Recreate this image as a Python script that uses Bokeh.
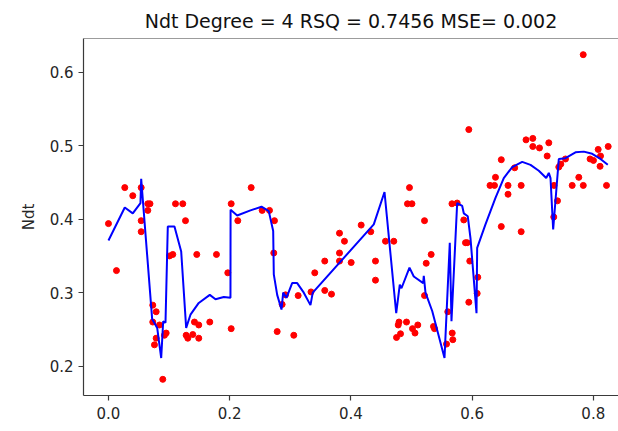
from bokeh.plotting import figure
from bokeh.models import Range1d, FixedTicker, PrintfTickFormatter, Span
from bokeh.embed import file_html
from bokeh.resources import INLINE

title_text = "Ndt Degree = 4 RSQ = 0.7456 MSE= 0.002"
y_label = "Ndt"
x_ticks = [0.0, 0.2, 0.4, 0.6, 0.8]
y_ticks = [0.2, 0.3, 0.4, 0.5, 0.6]

point_x = [0.0, 0.0132, 0.0269, 0.0401, 0.054, 0.0649, 0.0685, 0.0649, 0.054, 0.054,
           0.0731, 0.0787, 0.0731, 0.0842, 0.0787, 0.0759, 0.0952, 0.0924, 0.0896, 0.1106,
           0.1226, 0.1271, 0.1007, 0.1061, 0.1457, 0.1282, 0.1309, 0.1391, 0.1419, 0.149,
           0.149, 0.1782, 0.1672, 0.1969, 0.2025, 0.2134, 0.2355, 0.2025, 0.2536, 0.2657,
           0.2739, 0.2728, 0.2784, 0.3058, 0.2866, 0.2921, 0.313, 0.3342, 0.3404, 0.3569,
           0.3569, 0.368, 0.3812, 0.3894, 0.3812, 0.3812, 0.4005, 0.417, 0.4328, 0.4406,
           0.4406, 0.4571, 0.4708, 0.4967, 0.4934, 0.5008, 0.4794, 0.4918, 0.4781, 0.5017,
           0.5058, 0.4753, 0.4819, 0.5104, 0.5215, 0.5325, 0.5243, 0.5215, 0.5363, 0.538,
           0.5578, 0.5599, 0.5672, 0.5682, 0.5668, 0.5754, 0.5863, 0.5891, 0.5919, 0.5962,
           0.6094, 0.6084, 0.5946, 0.5946, 0.6482, 0.6386, 0.6296, 0.637, 0.6593, 0.6593,
           0.6482, 0.681, 0.681, 0.6703, 0.689, 0.7002, 0.7002, 0.7112, 0.7266, 0.7239,
           0.7352, 0.7431, 0.7464, 0.7541, 0.7409, 0.7348, 0.7652, 0.7761, 0.7835, 0.7834,
           0.7947, 0.8003, 0.8081, 0.8119, 0.8112, 0.8218, 0.8246]
point_y = [0.394, 0.330, 0.443, 0.432, 0.443, 0.421, 0.421, 0.412, 0.398, 0.383,
           0.283, 0.274, 0.260, 0.256, 0.238, 0.229, 0.245, 0.242, 0.182, 0.421,
           0.421, 0.398, 0.350, 0.352, 0.352, 0.242, 0.238, 0.243, 0.260, 0.256,
           0.238, 0.352, 0.260, 0.327, 0.421, 0.398, 0.443, 0.251, 0.412, 0.412,
           0.398, 0.354, 0.247, 0.242, 0.284, 0.297, 0.296, 0.301, 0.327, 0.343,
           0.303, 0.298, 0.381, 0.370, 0.354, 0.343, 0.341, 0.392, 0.383, 0.343,
           0.317, 0.370, 0.370, 0.443, 0.421, 0.421, 0.260, 0.260, 0.256, 0.251,
           0.245, 0.239, 0.244, 0.256, 0.398, 0.352, 0.340, 0.296, 0.254, 0.251,
           0.230, 0.274, 0.245, 0.236, 0.421, 0.422, 0.399, 0.368, 0.368, 0.343,
           0.321, 0.299, 0.287, 0.522, 0.481, 0.457, 0.446, 0.446, 0.446, 0.434,
           0.390, 0.446, 0.383, 0.470, 0.508, 0.510, 0.499, 0.497, 0.504, 0.486,
           0.446, 0.471, 0.475, 0.482, 0.425, 0.403, 0.446, 0.457, 0.446, 0.624,
           0.482, 0.480, 0.495, 0.486, 0.472, 0.446, 0.499]

fit_x = [0.0, 0.0269, 0.0401, 0.0528, 0.054, 0.0721, 0.0804, 0.087, 0.0903, 0.0941,
         0.0979, 0.1089, 0.12, 0.1282, 0.1353, 0.149, 0.1672, 0.1766, 0.1903, 0.2013,
         0.2015, 0.2124, 0.2343, 0.2525, 0.2645, 0.2718, 0.2728, 0.2784, 0.2855, 0.2883,
         0.2937, 0.3031, 0.3114, 0.3223, 0.3333, 0.3371, 0.4378, 0.4555, 0.4748, 0.4807,
         0.4835, 0.4967, 0.5038, 0.5193, 0.5203, 0.5231, 0.5342, 0.5545, 0.5632, 0.566,
         0.5754, 0.5837, 0.5863, 0.5929, 0.5974, 0.6073, 0.6084, 0.6221, 0.6386, 0.6523,
         0.6662, 0.6827, 0.6964, 0.7101, 0.7223, 0.7266, 0.7294, 0.7338, 0.7431, 0.7541,
         0.7706, 0.7843, 0.7982, 0.8119, 0.8239]
fit_y = [0.371, 0.416, 0.408, 0.422, 0.455, 0.264, 0.252, 0.211, 0.261, 0.259,
         0.390, 0.390, 0.356, 0.252, 0.270, 0.286, 0.297, 0.291, 0.294, 0.293,
         0.413, 0.405, 0.412, 0.417, 0.411, 0.384, 0.325, 0.297, 0.277, 0.300,
         0.293, 0.313, 0.313, 0.300, 0.283, 0.300, 0.393, 0.437, 0.272, 0.311,
         0.306, 0.334, 0.322, 0.313, 0.323, 0.300, 0.275, 0.211, 0.368, 0.261,
         0.422, 0.418, 0.408, 0.404, 0.374, 0.272, 0.361, 0.393, 0.429, 0.456,
         0.471, 0.478, 0.474, 0.466, 0.456, 0.463, 0.456, 0.386, 0.482, 0.483,
         0.491, 0.492, 0.489, 0.482, 0.474]

x_min, x_max = -0.0412, 0.8416
y_min, y_max = 0.160, 0.646

p = figure(width=618, height=431, output_backend="svg", toolbar_location=None,
           x_range=Range1d(x_min, x_max), y_range=Range1d(y_min, y_max),
           min_border_left=83, min_border_right=0, min_border_top=37, min_border_bottom=36)
p.title.text = title_text
p.title.align = "center"
p.title.text_font = "DejaVu Sans"
p.title.text_font_size = "19px"
p.title.text_font_style = "normal"
p.title.text_color = "#111111"
p.title.offset = 8
p.title.standoff = 14
p.grid.visible = False
p.outline_line_color = None
p.background_fill_color = "white"
p.border_fill_color = "white"

spine = "#3a3a3a"
for ax in (p.xaxis[0], p.yaxis[0]):
    ax.major_label_text_font = "DejaVu Sans"
    ax.major_label_text_font_size = "15px"
    ax.major_label_text_color = "#262626"
    ax.axis_line_color = spine
    ax.axis_line_width = 1.2
    ax.major_tick_line_color = spine
    ax.major_tick_line_width = 1.2
    ax.major_tick_out = 5
    ax.major_tick_in = 0
    ax.minor_tick_line_color = None
    ax.formatter = PrintfTickFormatter(format="%.1f")
p.xaxis.major_label_standoff = 6
p.yaxis.major_label_standoff = 5
p.xaxis.ticker = FixedTicker(ticks=x_ticks)
p.yaxis.ticker = FixedTicker(ticks=y_ticks)
p.yaxis.axis_label = y_label
p.yaxis.axis_label_text_font = "DejaVu Sans"
p.yaxis.axis_label_text_font_size = "15px"
p.yaxis.axis_label_text_font_style = "normal"
p.yaxis.axis_label_text_color = "#262626"
p.yaxis.axis_label_standoff = 9

p.add_layout(Span(location=y_max, dimension="width", line_color=spine, line_width=1.2))

p.scatter(point_x, point_y, size=6, color="red", line_color="red")
p.line(fit_x, fit_y, line_color="blue", line_width=2)

open("out.html", "w").write(file_html(p, INLINE))
